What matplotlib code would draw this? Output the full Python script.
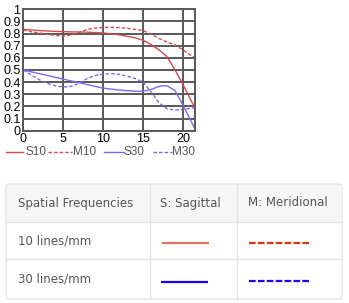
import matplotlib.pyplot as plt
from matplotlib.patches import FancyBboxPatch, Rectangle

# MTF data (x = image height in mm)
x_s10 = [0, 2, 4, 6, 8, 10, 12, 14, 15, 16, 17, 18, 19, 20, 21, 21.6]
s10 = [0.835, 0.825, 0.818, 0.814, 0.812, 0.805, 0.79, 0.765, 0.745, 0.71, 0.665, 0.61, 0.50, 0.38, 0.25, 0.17]

x_m10 = [0, 1, 2.5, 4, 5, 6, 7, 8, 9, 10, 11, 12, 13, 14, 15, 16, 17, 18, 19, 20, 21, 21.6]
m10 = [0.83, 0.815, 0.80, 0.785, 0.78, 0.79, 0.81, 0.835, 0.845, 0.85, 0.852, 0.85, 0.843, 0.835, 0.825, 0.795, 0.76, 0.73, 0.705, 0.665, 0.62, 0.596]

x_s30 = [0, 2, 4, 6, 8, 10, 12, 14, 15, 16, 17, 17.5, 18, 19, 20, 21, 21.6]
s30 = [0.50, 0.47, 0.44, 0.41, 0.38, 0.35, 0.335, 0.325, 0.325, 0.34, 0.365, 0.37, 0.37, 0.33, 0.21, 0.08, 0.0]

x_m30 = [0, 1, 2, 3, 4, 5, 6, 7, 8, 9, 10, 11, 12, 13, 14, 15, 16, 17, 18, 19, 20, 21, 21.6]
m30 = [0.50, 0.46, 0.42, 0.39, 0.37, 0.36, 0.365, 0.39, 0.43, 0.455, 0.465, 0.47, 0.465, 0.45, 0.43, 0.40, 0.32, 0.23, 0.18, 0.17, 0.175, 0.185, 0.19]

x_ticks = [0, 5, 10, 15, 20]
y_ticks = [0, 0.1, 0.2, 0.3, 0.4, 0.5, 0.6, 0.7, 0.8, 0.9, 1]
y_labels = ['0', '0.1', '0.2', '0.3', '0.4', '0.5', '0.6', '0.7', '0.8', '0.9', '1']

legend_names = ['S10', 'M10', 'S30', 'M30']
row_labels = ['10 lines/mm', '30 lines/mm']
col_labels = ['Spatial Frequencies', 'S: Sagittal', 'M: Meridional']

red = '#d44a4a'
blue = '#7a6af0'
grid_c = '#585858'
txt_c = '#555555'

W, H = 349, 303
fig = plt.figure(figsize=(W / 100, H / 100), dpi=100)

# chart axes
ax = fig.add_axes([23.3 / W, 1 - 130.7 / H, (195 - 23.3) / W, (130.7 - 9.3) / H])
ax.plot(x_s10, s10, color=red, lw=1)
ax.plot(x_m10, m10, color=red, lw=1, ls=(0, (2.5, 1.5)))
ax.plot(x_s30, s30, color=blue, lw=1)
ax.plot(x_m30, m30, color=blue, lw=1, ls=(0, (2.5, 1.5)))
ax.set_xlim(0, 21.5)
ax.set_ylim(0, 1)
ax.set_xticks(x_ticks)
ax.set_yticks(y_ticks)
ax.set_yticklabels(y_labels)
ax.grid(True, color=grid_c, lw=1.4)
ax.set_axisbelow(True)
for s in ax.spines.values():
    s.set_color(grid_c)
    s.set_linewidth(1.4)
ax.tick_params(length=0, pad=2, labelsize=9, labelcolor='black')
for lab in ax.get_xticklabels() + ax.get_yticklabels():
    lab.set_family('Liberation Sans')

# overlay axes in pixel coordinates for the legend row and the table
ov = fig.add_axes([0, 0, 1, 1])
ov.set_xlim(0, W)
ov.set_ylim(H, 0)
ov.axis('off')

# legend under the chart
leg_line = [(6, 23), (48, 72), (104, 124), (153, 172)]
leg_text_x = [25, 73, 124, 172]
leg_colors = [red, red, blue, blue]
leg_styles = ['-', (0, (2.5, 1.5)), '-', (0, (2.5, 1.5))]
for name, (a, b), tx, c, st in zip(legend_names, leg_line, leg_text_x, leg_colors, leg_styles):
    ov.plot([a, b], [151.5, 151.5], color=c, lw=1, ls=st)
    ov.text(tx, 152, name, color=txt_c, fontsize=8.5, family='Liberation Sans', va='center', ha='left')

# table
tx0, tx1, ty0, ty1 = 6, 342, 184, 299
row_y = [184, 222, 259, 299]
col_x = [6, 150, 237, 342]
border = '#e3e3e3'
ov.add_patch(FancyBboxPatch((tx0, ty0), tx1 - tx0, ty1 - ty0,
                            boxstyle='round,pad=0,rounding_size=3',
                            fc='white', ec=border, lw=1))
ov.add_patch(Rectangle((tx0 + 0.5, row_y[0] + 0.5), tx1 - tx0 - 1, row_y[1] - row_y[0] - 0.5,
                       fc='#f6f6f6', ec='none'))
for yy in row_y[1:3]:
    ov.plot([tx0, tx1], [yy, yy], color=border, lw=1)
for xx in col_x[1:3]:
    ov.plot([xx, xx], [ty0, ty1], color=border, lw=1)

col_text_x = [18, 160, 248]
for tx, lab in zip(col_text_x, col_labels):
    ov.text(tx, 203, lab, color=txt_c, fontsize=8.5, family='DejaVu Sans', va='center', ha='left')
row_text_y = [241, 279]
for ty, lab in zip(row_text_y, row_labels):
    ov.text(18, ty, lab, color=txt_c, fontsize=8.5, family='DejaVu Sans', va='center', ha='left')

# line samples in the table
ov.plot([162, 209], [242.7, 242.7], color='#e07262', lw=1.6, solid_capstyle='butt')
ov.plot([249, 311], [242.7, 242.7], color='#d83418', lw=1.6, ls=(0, (3, 1)))
ov.plot([161, 208], [281.7, 281.7], color='#2200f0', lw=1.6, solid_capstyle='butt')
ov.plot([249, 311], [281, 281], color='#2200f0', lw=1.6, ls=(0, (3, 1)))

fig.savefig('out.png', dpi=100)
